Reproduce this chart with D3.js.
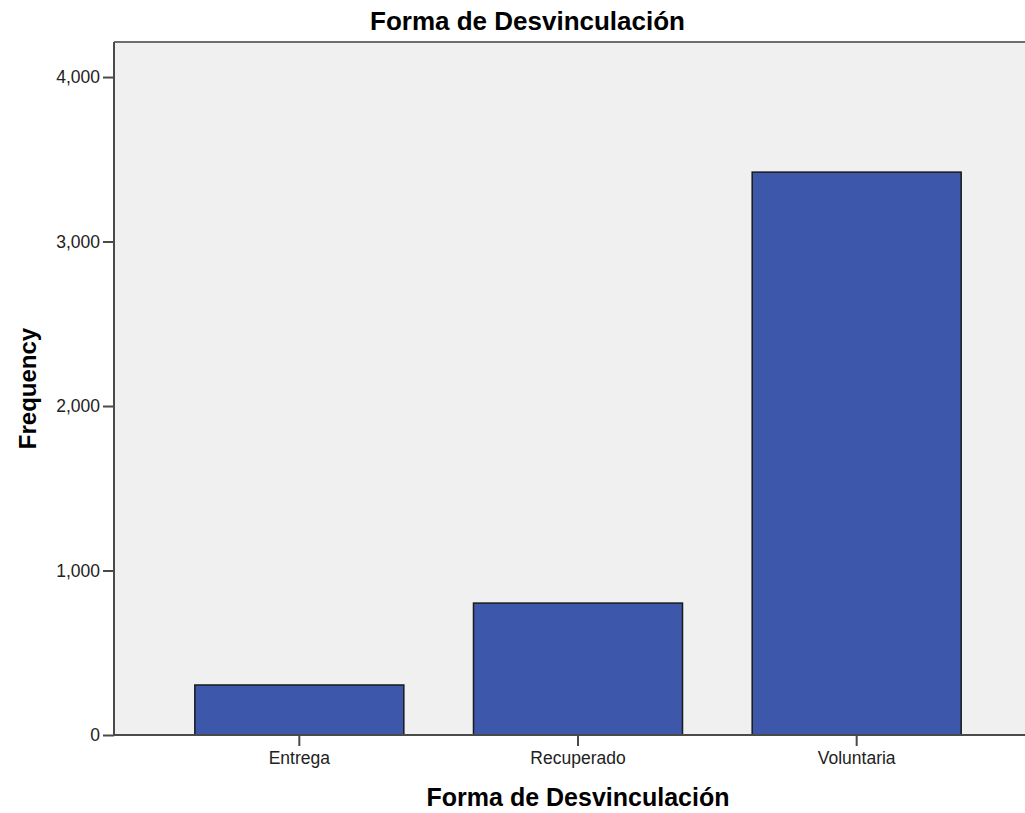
<!DOCTYPE html>
<html>
<head>
<meta charset="utf-8">
<script src="https://cdn.jsdelivr.net/npm/d3@7"></script>
<style>
  body { margin: 0; background: #fff; }
  svg { display: block; font-family: "Liberation Sans", Arial, sans-serif; }
</style>
</head>
<body>
<svg width="1025" height="813"></svg>
<script>
// data
const categories = ['Entrega', 'Recuperado', 'Voluntaria'];
const frequency = [304, 802, 3422];
const yTicks = [0, 1000, 2000, 3000, 4000];

const chartTitle = 'Forma de Desvinculación';
const yTitle = 'Frequency';

const svg = d3.select('svg');

// plot area (right side runs past the picture edge)
const plotLeft = 114, plotRight = 1042, plotTop = 42, plotBottom = 735;

const x = d3.scaleBand()
  .domain(categories)
  .range([plotLeft, plotRight])
  .paddingInner(0.25)
  .paddingOuter(0.29);

const y = d3.scaleLinear()
  .domain([0, 4213])
  .range([plotBottom, plotTop]);

// grey panel
svg.append('rect')
  .attr('x', plotLeft).attr('y', plotTop)
  .attr('width', plotRight - plotLeft).attr('height', plotBottom - plotTop)
  .attr('fill', '#f0f0f0');

// top frame line
svg.append('line')
  .attr('x1', plotLeft).attr('x2', 1025)
  .attr('y1', plotTop).attr('y2', plotTop)
  .attr('stroke', '#6e6e6e').attr('stroke-width', 2);

// bars
svg.append('g')
  .selectAll('rect')
  .data(categories)
  .enter().append('rect')
    .attr('x', d => x(d))
    .attr('y', (d, i) => y(frequency[i]))
    .attr('width', x.bandwidth())
    .attr('height', (d, i) => y(0) - y(frequency[i]))
    .attr('fill', '#3d58aa')
    .attr('stroke', '#1a1a1a')
    .attr('stroke-width', 1.5);

// y axis
const yAxis = svg.append('g')
  .attr('transform', `translate(${plotLeft},0)`)
  .call(d3.axisLeft(y).tickValues(yTicks).tickFormat(d3.format(',')).tickSize(11).tickPadding(3));

// x axis
const xAxis = svg.append('g')
  .attr('transform', `translate(0,${plotBottom})`)
  .call(d3.axisBottom(x).tickSize(11).tickPadding(6));

[yAxis, xAxis].forEach(ax => {
  ax.select('.domain').attr('stroke', '#4a4a4a').attr('stroke-width', 2);
  ax.selectAll('.tick line').attr('stroke', '#4a4a4a').attr('stroke-width', 2);
  ax.selectAll('.tick text')
    .attr('fill', '#222')
    .style('font-size', '17.5px')
    .style('font-family', '"Liberation Sans", Arial, sans-serif');
});
// axis lines stop at the picture edge
xAxis.select('.domain').attr('d', `M${plotLeft},0H1025`);
yAxis.select('.domain').attr('d', `M0,${plotTop}V${plotBottom}`);

// titles
svg.append('text')
  .attr('x', 685).attr('y', 30)
  .attr('text-anchor', 'end')
  .style('font-size', '26px').style('font-weight', 'bold')
  .attr('fill', '#000')
  .text(chartTitle);

svg.append('text')
  .attr('x', (plotLeft + plotRight) / 2).attr('y', 806)
  .attr('text-anchor', 'middle')
  .style('font-size', '25px').style('font-weight', 'bold')
  .attr('fill', '#000')
  .text(chartTitle);

svg.append('text')
  .attr('transform', `translate(36,${(plotTop + plotBottom) / 2}) rotate(-90)`)
  .attr('text-anchor', 'middle')
  .style('font-size', '24px').style('font-weight', 'bold')
  .attr('fill', '#000')
  .text(yTitle);
</script>
</body>
</html>
